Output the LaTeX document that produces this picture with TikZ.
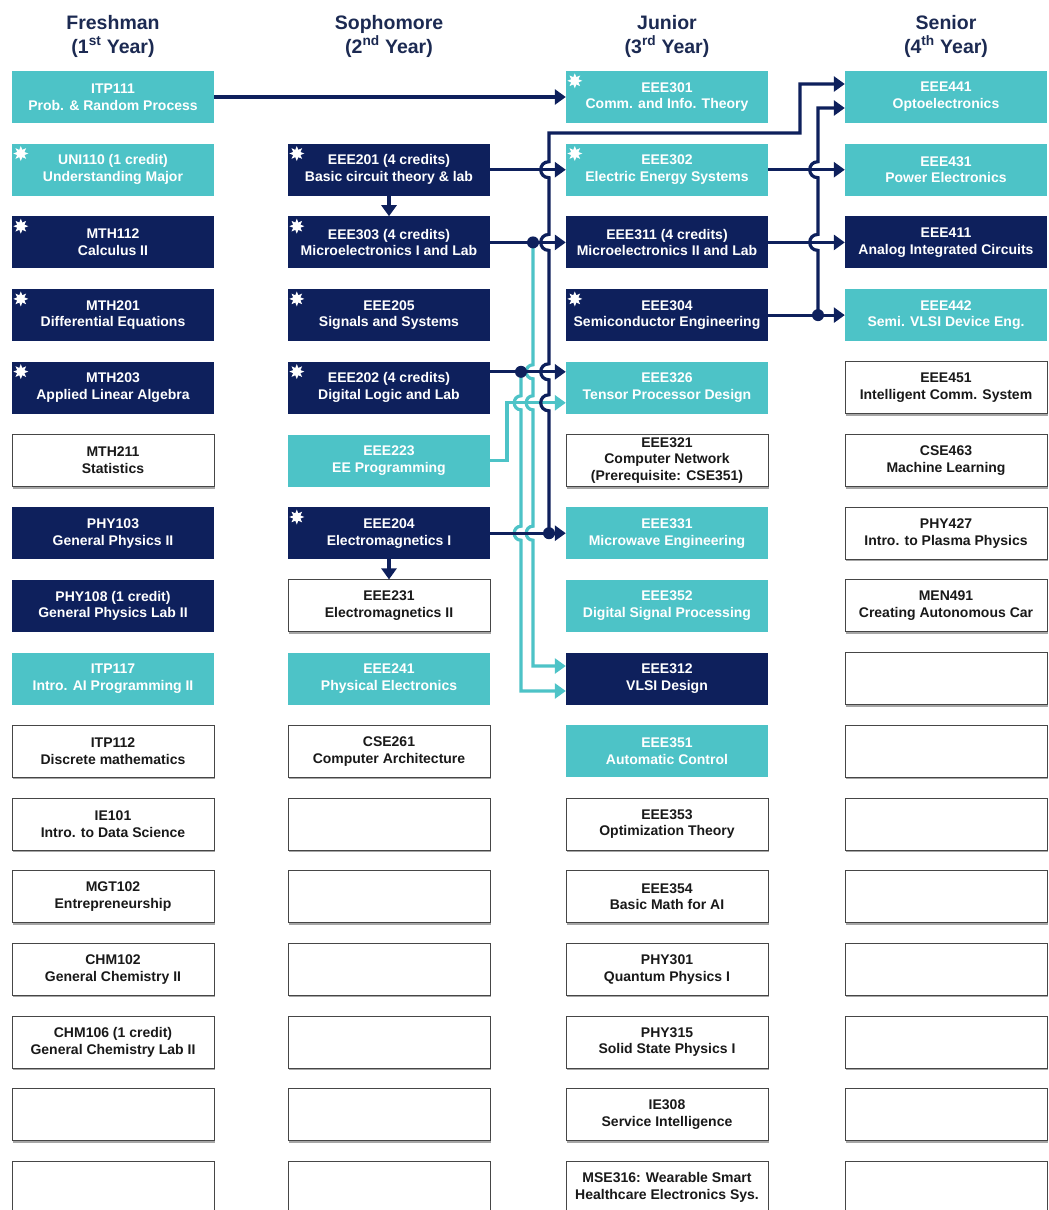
\documentclass[tikz,border=0pt]{standalone}
\usepackage{fontspec}
\setmainfont{Liberation Sans}
\usetikzlibrary{arrows.meta,shapes.geometric,shadows}
\definecolor{navyc}{RGB}{14,32,92}
\definecolor{tealc}{RGB}{77,195,199}
\definecolor{headc}{RGB}{28,42,82}
\definecolor{bordc}{RGB}{70,70,70}
\tikzset{
  box/.style={minimum width=202pt, minimum height=52pt, inner sep=0pt, align=center,
    font=\bfseries\fontsize{14}{16.8}\selectfont},
  tbox/.style={box, fill=tealc, text=white},
  nbox/.style={box, fill=navyc, text=white},
  wbox/.style={box, fill=white, draw=bordc, line width=1pt, text=black!90,
    drop shadow={shadow xshift=1.2pt, shadow yshift=-2pt, fill=gray!70, opacity=1}},
  head/.style={align=center, text=headc, font=\bfseries\fontsize{19.5}{24}\selectfont},
  burst/.style={star, star points=8, star point ratio=1.9, fill=white, minimum size=15pt, inner sep=0pt},
  nline/.style={draw=navyc, line width=3.2pt},
  tline/.style={draw=tealc, line width=3.2pt},
  narr/.style={nline, -{Triangle[length=11pt,width=15pt]}},
  tarr/.style={tline, -{Triangle[length=11pt,width=15pt]}},
  ndot/.style={circle, fill=navyc, minimum size=12pt, inner sep=0pt}
}
\begin{document}
\begin{tikzpicture}[x=1pt,y=-1pt]
\useasboundingbox[fill=white] (0,0) rectangle (1049,1210);

% headers
\node[head] (h1) at (113,36) {Freshman\\(1\textsuperscript{st} Year)};
\node[head] (h2) at (389,36) {Sophomore\\(2\textsuperscript{nd} Year)};
\node[head] (h3) at (667,36) {Junior\\(3\textsuperscript{rd} Year)};
\node[head] (h4) at (946,36) {Senior\\(4\textsuperscript{th} Year)};

% column 1
\node[tbox] (itp111) at (113,97) {ITP111\\Prob. \& Random Process};
\node[tbox] (uni110) at (113,169.7) {UNI110 (1 credit)\\Understanding Major};
\node[nbox] (mth112) at (113,242.4) {MTH112\\Calculus II};
\node[nbox] (mth201) at (113,315.1) {MTH201\\Differential Equations};
\node[nbox] (mth203) at (113,387.8) {MTH203\\Applied Linear Algebra};
\node[wbox] (mth211) at (113,460.5) {MTH211\\Statistics};
\node[nbox] (phy103) at (113,533.2) {PHY103\\General Physics II};
\node[nbox] (phy108) at (113,605.9) {PHY108 (1 credit)\\General Physics Lab II};
\node[tbox] (itp117) at (113,678.6) {ITP117\\Intro. AI Programming II};
\node[wbox] (itp112) at (113,751.3) {ITP112\\Discrete mathematics};
\node[wbox] (ie101) at (113,824) {IE101\\Intro. to Data Science};
\node[wbox] (mgt102) at (113,896.7) {MGT102\\Entrepreneurship};
\node[wbox] (chm102) at (113,969.4) {CHM102\\General Chemistry II};
\node[wbox] (chm106) at (113,1042.1) {CHM106 (1 credit)\\General Chemistry Lab II};
\node[wbox] (c1r15) at (113,1114.8) {};
\node[wbox] (c1r16) at (113,1187.5) {};

% column 2
\node[nbox] (eee201) at (389,169.7) {EEE201 (4 credits)\\Basic circuit theory \& lab};
\node[nbox] (eee303) at (389,242.4) {EEE303 (4 credits)\\Microelectronics I and Lab};
\node[nbox] (eee205) at (389,315.1) {EEE205\\Signals and Systems};
\node[nbox] (eee202) at (389,387.8) {EEE202 (4 credits)\\Digital Logic and Lab};
\node[tbox] (eee223) at (389,460.5) {EEE223\\EE Programming};
\node[nbox] (eee204) at (389,533.2) {EEE204\\Electromagnetics I};
\node[wbox] (eee231) at (389,605.9) {EEE231\\Electromagnetics II};
\node[tbox] (eee241) at (389,678.6) {EEE241\\Physical Electronics};
\node[wbox] (cse261) at (389,751.3) {CSE261\\Computer Architecture};
\node[wbox] (c2r11) at (389,824) {};
\node[wbox] (c2r12) at (389,896.7) {};
\node[wbox] (c2r13) at (389,969.4) {};
\node[wbox] (c2r14) at (389,1042.1) {};
\node[wbox] (c2r15) at (389,1114.8) {};
\node[wbox] (c2r16) at (389,1187.5) {};

% column 3
\node[tbox] (eee301) at (667,97) {EEE301\\Comm. and Info. Theory};
\node[tbox] (eee302) at (667,169.7) {EEE302\\Electric Energy Systems};
\node[nbox] (eee311) at (667,242.4) {EEE311 (4 credits)\\Microelectronics II and Lab};
\node[nbox] (eee304) at (667,315.1) {EEE304\\Semiconductor Engineering};
\node[tbox] (eee326) at (667,387.8) {EEE326\\Tensor Processor Design};
\node[wbox] (eee321) at (667,460.5) {EEE321\\Computer Network\\(Prerequisite: CSE351)};
\node[tbox] (eee331) at (667,533.2) {EEE331\\Microwave Engineering};
\node[tbox] (eee352) at (667,605.9) {EEE352\\Digital Signal Processing};
\node[nbox] (eee312) at (667,678.6) {EEE312\\VLSI Design};
\node[tbox] (eee351) at (667,751.3) {EEE351\\Automatic Control};
\node[wbox] (eee353) at (667,824) {EEE353\\Optimization Theory};
\node[wbox] (eee354) at (667,896.7) {EEE354\\Basic Math for AI};
\node[wbox] (phy301) at (667,969.4) {PHY301\\Quantum Physics I};
\node[wbox] (phy315) at (667,1042.1) {PHY315\\Solid State Physics I};
\node[wbox] (ie308) at (667,1114.8) {IE308\\Service Intelligence};
\node[wbox] (mse316) at (667,1187.5) {MSE316: Wearable Smart\\Healthcare Electronics Sys.};

% column 4
\node[tbox] (eee441) at (946,97) {EEE441\\Optoelectronics};
\node[tbox] (eee431) at (946,169.7) {EEE431\\Power Electronics};
\node[nbox] (eee411) at (946,242.4) {EEE411\\Analog Integrated Circuits};
\node[tbox] (eee442) at (946,315.1) {EEE442\\Semi. VLSI Device Eng.};
\node[wbox] (eee451) at (946,387.8) {EEE451\\Intelligent Comm. System};
\node[wbox] (cse463) at (946,460.5) {CSE463\\Machine Learning};
\node[wbox] (phy427) at (946,533.2) {PHY427\\Intro. to Plasma Physics};
\node[wbox] (men491) at (946,605.9) {MEN491\\Creating Autonomous Car};
\node[wbox] (c4r09) at (946,678.6) {};
\node[wbox] (c4r10) at (946,751.3) {};
\node[wbox] (c4r11) at (946,824) {};
\node[wbox] (c4r12) at (946,896.7) {};
\node[wbox] (c4r13) at (946,969.4) {};
\node[wbox] (c4r14) at (946,1042.1) {};
\node[wbox] (c4r15) at (946,1114.8) {};
\node[wbox] (c4r16) at (946,1187.5) {};

% star bursts
\foreach \n in {uni110,mth112,mth201,mth203,eee201,eee303,eee205,eee202,eee204,eee301,eee302,eee304}{
  \node[burst] (s-\n) at ([xshift=9pt,yshift=-10pt]\n.north west) {};
}

% teal connectors
\draw[tarr] (eee223.east) -| (507,402.8) -- (eee326.west |- 0,402.8);
\draw[tarr] (533,242.4)
  -- (533,371.8-7) .. controls (524,371.8-7) and (524,371.8+7) .. (533,371.8+7)
  -- (533,402.8-7) .. controls (524,402.8-7) and (524,402.8+7) .. (533,402.8+7)
  -- (533,533.2-7) .. controls (524,533.2-7) and (524,533.2+7) .. (533,533.2+7)
  -- (533,666) -- (eee312.west |- 0,666);
\draw[tarr] (521,371.8)
  -- (521,402.8-7) .. controls (512,402.8-7) and (512,402.8+7) .. (521,402.8+7)
  -- (521,533.2-7) .. controls (512,533.2-7) and (512,533.2+7) .. (521,533.2+7)
  -- (521,691) -- (eee312.west |- 0,691);

% navy connectors
\draw[narr] (itp111.east) -- (eee301.west);
\draw[narr] (eee201.east) -- (eee302.west);
\draw[narr] (eee201.south) -- (eee303.north);
\draw[narr] (eee303.east) -- (eee311.west);
\draw[narr] (eee202.east |- 0,371.8) -- (eee326.west |- 0,371.8);
\draw[narr] (eee204.east) -- (eee331.west);
\draw[narr] (eee204.south) -- (eee231.north);
\draw[narr] (eee302.east) -- (eee431.west);
\draw[narr] (eee311.east) -- (eee411.west);
\draw[narr] (eee304.east) -- (eee442.west);

\draw[narr] (549,533.2)
  -- (549,402.8+8) .. controls (538,402.8+8) and (538,402.8-8) .. (549,402.8-8)
  -- (549,371.8+8) .. controls (538,371.8+8) and (538,371.8-8) .. (549,371.8-8)
  -- (549,242.4+8) .. controls (538,242.4+8) and (538,242.4-8) .. (549,242.4-8)
  -- (549,169.7+8) .. controls (538,169.7+8) and (538,169.7-8) .. (549,169.7-8)
  -- (549,133) -- (800,133) -- (800,84) -- (eee441.west |- 0,84);
\draw[narr] (818,315.1)
  -- (818,242.4+8) .. controls (807,242.4+8) and (807,242.4-8) .. (818,242.4-8)
  -- (818,169.7+8) .. controls (807,169.7+8) and (807,169.7-8) .. (818,169.7-8)
  -- (818,108) -- (eee441.west |- 0,108);

% junction dots
\node[ndot] (j303) at (533,242.4) {};
\node[ndot] (j202) at (521,371.8) {};
\node[ndot] (j204) at (549,533.2) {};
\node[ndot] (j304) at (818,315.1) {};
\end{tikzpicture}
\end{document}
